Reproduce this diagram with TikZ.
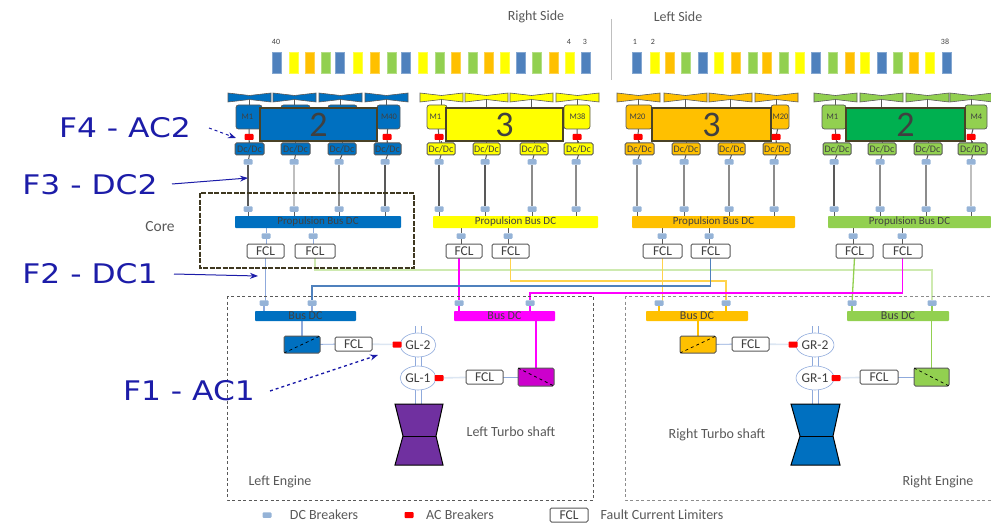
\documentclass[tikz,border=0pt]{standalone}
\usepackage{fontspec}
\setmainfont{Carlito}
\newfontfamily\flab[FakeStretch=1.16]{DejaVu Sans}
\usetikzlibrary{arrows.meta,backgrounds,shapes.geometric}
\definecolor{cblue}{HTML}{0070C0}
\definecolor{cyel}{HTML}{FFFF00}
\definecolor{cora}{HTML}{FFC000}
\definecolor{cgrn}{HTML}{92D050}
\definecolor{cdgrn}{HTML}{00B050}
\definecolor{cmag}{HTML}{FF00FF}
\definecolor{cdmag}{HTML}{CC00CC}
\definecolor{cpur}{HTML}{7030A0}
\definecolor{sblue}{HTML}{4F81BD}
\definecolor{brk}{HTML}{95B3D7}
\definecolor{wireb}{HTML}{8FAADC}
\definecolor{palew}{HTML}{DCE6F2}
\definecolor{dkbox}{HTML}{4A4226}
\definecolor{ink}{HTML}{404040}
\definecolor{annot}{HTML}{1C1CA8}
\definecolor{dk}{HTML}{595959}
\definecolor{md}{HTML}{8C8C8C}
\definecolor{lg}{HTML}{BFBFBF}
\tikzset{
  base/.style={inner sep=0pt,outer sep=0pt,rectangle,text=ink,font=\fontsize{8}{8}\selectfont},
  stripbar/.style={base,fill=#1,draw=#1!70!white,line width=.4pt},
  motorbox/.style={base,fill=#1,draw=dk,line width=.7pt,rounded corners=2.5pt,font=\fontsize{8.5}{8}\selectfont},
  bigbox/.style={base,fill=#1,draw=dkbox,line width=2.4pt,font=\fontsize{36}{36}\selectfont},
  convbox/.style={base,fill=#1,draw=dk,line width=1pt,rounded corners=1.5pt,font=\fontsize{10}{9}\selectfont},
  busbar/.style={base,fill=#1,font=\fontsize{11}{10}\selectfont,rounded corners=.8pt},
  dcbrk/.style={base,fill=brk,rounded corners=1pt,minimum width=9pt,minimum height=5.5pt},
  acbrk/.style={base,fill=red,rounded corners=.8pt,minimum width=9pt,minimum height=6pt},
  fclbox/.style={base,fill=white,draw=dk,line width=1pt,rounded corners=1.5pt,font=\fontsize{13.5}{10}\selectfont},
  genell/.style={base,ellipse,fill=white,draw=wireb,line width=.6pt,minimum width=32pt,minimum height=24pt,font=\fontsize{13.5}{10}\selectfont},
  fanbox/.style={base,minimum width=43pt,minimum height=9pt},
  note/.style={base,font=\fontsize{14}{11}\selectfont,text=dk},
  flabel/.style={base,font=\flab\fontsize{27}{28}\selectfont,text=annot},
  farrow/.style={annot,line width=1pt,-{Stealth[length=8pt,width=6pt]}},
  stem/.style={line width=1pt,color=dk},
  engbox/.style={dk,dashed,line width=.9pt,dash pattern=on 3pt off 2.5pt},
  lowbus/.style={busbar=#1,font=\fontsize{12}{9}\selectfont},
  wirec/.style={#1,line width=1.3pt},
}
\newcommand\rb[7][]{\node[#1,minimum width={(#5-#3)*1pt},minimum height={(#6-#4)*1pt}] (#2) at ({(#3+#5)/2},{(#4+#6)/2}) {#7};}
\newcommand\drawgroup{%
  \rb[motorbox=\gcol]{\pre ml}{\mLa}{105}{\mLb}{129}{\hspace*{-3pt}\labL}
  \rb[motorbox=\gcol]{\pre mr}{\mRa}{105}{\mRb}{129}{\hspace*{1pt}\labR}
  \rb[bigbox=\gbig]{\pre big}{\biga}{108}{\bigb}{141}{\gnum}
  \node[acbrk] (\pre rl) at (\redL,137) {};
  \node[acbrk] (\pre rr) at (\redR,137) {};
  \rb[busbar=\gcol]{\pre bus}{\busa}{216}{\busb}{228}{Propulsion Bus DC}
  \foreach \fx [count=\n] in \fanlist {
    \rb[fanbox]{\pre f\n}{\fx}{93}{\fx+43}{102}{}
    \fill[\gcol,draw=dk,line width=.6pt] (\pre f\n.north west) -- ([yshift=-2.5pt]\pre f\n.north) -- (\pre f\n.north east) -- (\pre f\n.south east) -- ([yshift=2.5pt]\pre f\n.south) -- (\pre f\n.south west) -- cycle;
    \begin{pgfonlayer}{background}
      \draw[stem] (\pre f\n.center) -- (\pre f\n.center |- \pre big.north);
    \end{pgfonlayer}
  }
  \foreach \ca/\cb/\bk/\wc [count=\n] in \convlist {
    \rb[convbox=\gcol]{\pre c\n}{\ca}{143}{\cb}{155}{Dc/Dc}
    \node[dcbrk] (\pre u\n) at (\bk,162) {};
    \node[dcbrk] (\pre d\n) at (\bk,209) {};
    \begin{pgfonlayer}{background}
      \draw[stem] (\pre c\n.north) -- (\pre c\n.north |- \pre big.south);
      \draw[stem] (\pre c\n.south) -- (\pre u\n);
      \draw[line width=1.2pt,color=\wc] (\pre u\n) -- (\pre d\n);
      \draw[stem] (\pre d\n) -- (\pre d\n |- \pre bus.north);
    \end{pgfonlayer}
  }
  \foreach \fa/\fb/\bk [count=\n] in \fcllist {
    \rb[fclbox]{\pre l\n}{\fa}{244}{\fb}{258}{FCL}
    \node[dcbrk] (\pre b\n) at (\bk,236) {};
    \begin{pgfonlayer}{background}
      \draw[line width=1pt,color=\gstem] (\pre bus.south -| \pre b\n) -- (\pre b\n) -- (\pre b\n |- \pre l\n.north);
    \end{pgfonlayer}
  }
  \begin{pgfonlayer}{background}
    \draw[stem] (\pre ml) -- (\pre rl) -- (\pre c1);
    \draw[stem] (\pre mr) -- (\pre rr) -- (\pre c4);
  \end{pgfonlayer}
}
\begin{document}
\begin{tikzpicture}[x=1pt,y=-1pt]
\useasboundingbox (0,0) rectangle (991,524);

% top strip
\foreach \x/\c in {276.7/sblue,294/cyel,309.3/cora,326/cgrn,340/sblue,358/cyel,375/cora,391.7/cgrn,406/sblue,422.7/cyel,439.3/cgrn,456/cora,472.3/cgrn,489/cora,504.3/cyel,521/sblue,536.7/cgrn,553.3/cora,570/cyel,586/sblue,
  636.7/sblue,654.3/cyel,669.3/cora,686/cgrn,702.3/sblue,719/cyel,735.7/cora,752.3/cgrn,766.7/cora,783.3/cgrn,800/cyel,816/sblue,832.7/cgrn,849.3/cora,864.3/cyel,881.7/sblue,897.3/cgrn,914/cora,930/cyel,946.7/sblue}
  {\node[stripbar=\c,minimum width=9pt,minimum height=21pt] at (\x,62.5) {};}
\node[base,font=\fontsize{8}{8}\selectfont] at (276,42) {40};
\node[base,font=\fontsize{8}{8}\selectfont] at (569,42) {4};
\node[base,font=\fontsize{8}{8}\selectfont] at (585,42) {3};
\node[base,font=\fontsize{8}{8}\selectfont] at (635,42) {1};
\node[base,font=\fontsize{8}{8}\selectfont] at (653,42) {2};
\node[base,font=\fontsize{8}{8}\selectfont] at (945,42) {38};
\node[note] (rs) at (536,17) {Right Side};
\node[note] (ls) at (678,17) {Left Side};
\coordinate (diva) at (611,19);
\coordinate (divb) at (611,80);
\draw[lg,line width=.8pt] (diva) -- (divb);

% propulsion groups
\def\pre{a}\def\gcol{cblue}\def\gbig{cblue}\def\gnum{2}\def\gstem{wireb}
\def\mLa{236}\def\mLb{262}\def\mRa{377}\def\mRb{400}\def\labL{M1}\def\labR{M40}
\def\biga{260}\def\bigb{377}\def\redL{249}\def\redR{387}\def\busa{235}\def\busb{401}
\def\fanlist{228,273,319,365}
\def\convlist{235/264/248/dk,281/310/294/lg,328/356/339/md,374/401/385/dk}
\def\fcllist{247/284/266,295/335/313}
\foreach \xa/\nn in {281/i,328/j} {\rb[motorbox=cblue]{amid\nn}{\xa}{105}{\xa+29}{120}{}}
\drawgroup

\def\pre{b}\def\gcol{cyel}\def\gbig{cyel}\def\gnum{3}\def\gstem{dk}
\def\mLa{427}\def\mLb{447}\def\mRa{564}\def\mRb{590}\def\labL{M1}\def\labR{M38}
\def\biga{446}\def\bigb{563}\def\redL{439}\def\redR{577}\def\busa{433}\def\busb{598}
\def\fanlist{420,465,510,556}
\def\convlist{427/455/439/dk,473/500/485/dk,520/548/532/md,564/593/576/md}
\def\fcllist{446/482/461,492/529/508}
\drawgroup

\def\pre{c}\def\gcol{cora}\def\gbig{cora}\def\gnum{3}\def\gstem{dk}
\def\mLa{626}\def\mLb{652}\def\mRa{771}\def\mRb{789}\def\labL{M20}\def\labR{M20}
\def\biga{652}\def\bigb{771}\def\redL{638}\def\redR{776}\def\busa{632}\def\busb{795}
\def\fanlist{617,664,709,755}
\def\convlist{625/654/637/md,672/700/684/md,718/745/729/md,763/790/774/md}
\def\fcllist{643/682/662,691/730/709}
\drawgroup

\def\pre{d}\def\gcol{cgrn}\def\gbig{cdgrn}\def\gnum{2}\def\gstem{dk}
\def\mLa{822}\def\mLb{846}\def\mRa{965}\def\mRb{987}\def\labL{M1}\def\labR{M4}
\def\biga{846}\def\bigb{965}\def\redL{836}\def\redR{971}\def\busa{828}\def\busb{991}
\def\fanlist{814,860,906,950}
\def\convlist{823/851/834/dk,868/896/880/md,914/942/926/md,958/987/971/lg}
\def\fcllist{836/873/853,883/922/902}
\drawgroup

% core
\node[base] (corelab) at (160,227) {\fontsize{15.5}{11}\selectfont\color{dk}Core};
\coordinate (corea) at (200,193);
\coordinate (coreb) at (414,268);
\draw[dkbox!85!black,line width=2.4pt,dash pattern=on 5pt off 1.5pt] (corea) rectangle (coreb);

% engine boxes
\coordinate (lea) at (227,296); \coordinate (leb) at (593,500);
\coordinate (rea) at (625,296); \coordinate (reb) at (991,500);
\draw[engbox] (lea) rectangle (leb);
\draw[engbox,md] (rea) rectangle (reb);

% lower buses and breakers
\rb[lowbus=cblue]{lb1}{255}{311}{356}{321}{Bus DC}
\rb[lowbus=cmag]{lb2}{454}{311}{555}{321}{Bus DC}
\rb[lowbus=cora]{rb1}{646}{311}{748}{321}{Bus DC}
\rb[lowbus=cgrn]{rb2}{847}{311}{949}{321}{Bus DC}
\foreach \nn/\x in {k1/264,k2/312,k3/459,k4/530,k5/659,k6/726,k7/852,k8/932}
  {\node[dcbrk] (\nn) at (\x,303) {};}

% generators
\node[genell] (gl2) at (418,345) {GL-2};
\node[genell] (gl1) at (418,378) {GL-1};
\node[genell] (gr2) at (815,345) {GR-2};
\node[genell] (gr1) at (815,378) {GR-1};
\coordinate (gl2t) at (418,326);
\coordinate (gr2t) at (815,326);

% turbines
\coordinate (tl) at (419,404);
\coordinate (tr) at (815.5,404);
\fill[cpur,draw=black,line width=1pt] (395,404) -- (443,404) -- (436,436) -- (443,465) -- (395,465) -- (403,436) -- cycle;
\draw[black,line width=.8pt] (403,436) -- (436,436);
\fill[cblue,draw=black,line width=1pt] (791,404) -- (840,404) -- (833,436) -- (840,465) -- (791,465) -- (800,436) -- cycle;
\draw[black,line width=.8pt] (800,436) -- (833,436);

% converters and FCL left engine
\rb[convbox=cblue]{lc1}{284}{336}{320}{353}{}
\rb[fclbox]{lf1}{335}{337}{372}{351}{FCL}
\node[acbrk] (la1) at (397,344.5) {};
\node[acbrk] (la2) at (439,378) {};
\rb[fclbox]{lf2}{466}{370}{503}{384}{FCL}
\rb[convbox=cdmag]{lc2}{518}{368}{554}{386}{}
% right engine
\rb[convbox=cora]{rc1}{680}{336}{716}{353}{}
\rb[fclbox]{rf1}{732}{337}{769}{351}{FCL}
\node[acbrk] (ra1) at (793,344.5) {};
\node[acbrk] (ra2) at (836,378) {};
\rb[fclbox]{rf2}{860}{370}{898}{384}{FCL}
\rb[convbox=cgrn]{rc2}{914}{368}{949}{386}{}
% converter diagonals
\draw[black,line width=.7pt,dashed] (lc1.south west) -- (lc1.north east);
\draw[black,line width=.7pt,dashed] (rc1.south west) -- (rc1.north east);
\draw[black,line width=.7pt,dashed] (lc2.north west) -- (lc2.south east);
\draw[black,line width=.7pt,dashed] (rc2.north west) -- (rc2.south east);

\begin{pgfonlayer}{background}
  % feeders from the upper FCLs to the lower breakers
  \draw[wirec=wireb] (al1.south) -- (al1.south |- k1.north) -- (k1);
  \draw[wirec=cgrn!45!white] (al2.south) |- (k8 |- 0,270) -- (k8);
  \draw[wirec=cmag] (bl1.south -| k3) -- (k3);
  \draw[wirec=cora!70!white] (bl2.south) |- (k6 |- 0,281) -- (k6);
  \draw[wirec=cora!70!white] (cl1.south) -- (cl1.south |- k5.north) -- (k5);
  \draw[wirec=sblue] (cl2.south) |- (k2 |- 0,286) -- (k2);
  \draw[wirec=cgrn] (dl1.south) -- (k7);
  \draw[wirec=cmag] (dl2.south) |- (k4 |- 0,293) -- (k4);
  % breakers to buses
  \draw[wirec=wireb] (k1) -- (k1 |- lb1.north) (k2) -- (k2 |- lb1.north);
  \draw[wirec=cmag] (k3) -- (k3 |- lb2.north) (k4) -- (k4 |- lb2.north);
  \draw[wirec=cora] (k5) -- (k5 |- rb1.north) (k6) -- (k6 |- rb1.north);
  \draw[wirec=cgrn] (k7) -- (k7 |- rb2.north) (k8) -- (k8 |- rb2.north);
  % buses to converters
  \draw[wirec=wireb] (lb1.south -| lc1.north) -- (lc1.north);
  \draw[wirec=cmag] (lb2.south -| lc2.north) -- (lc2.north);
  \draw[wirec=cora] (rb1.south -| rc1.north) -- (rc1.north);
  \draw[wirec=cgrn] (rb2.south -| rc2.north) -- (rc2.north);
  % converter - FCL - breaker - generator
  \draw[wireb,line width=.9pt] (lc1) -- (lf1);
  \draw[palew,line width=1.6pt] (lf1) -- (la1) -- (gl2);
  \draw[palew,line width=1.6pt] (gl1) -- (la2) -- (lf2);
  \draw[wireb,line width=.9pt] (lf2) -- (lc2);
  \draw[wireb,line width=.9pt] (rc1) -- (rf1);
  \draw[palew,line width=1.6pt] (rf1) -- (ra1) -- (gr2);
  \draw[palew,line width=1.6pt] (gr1) -- (ra2) -- (rf2);
  \draw[wireb,line width=.9pt] (rf2) -- (rc2);
  % double shafts
  \foreach \s in {-3,3} {
    \draw[wireb,line width=.9pt] ([xshift=\s pt]gl2t) -- ([xshift=\s pt]gl2.center);
    \draw[wireb,line width=.9pt] ([xshift=\s pt]gl2.center) -- ([xshift=\s pt]gl1.center);
    \draw[wireb,line width=.9pt] ([xshift=\s pt]gl1.center) -- ([xshift=\s pt]gl1.center |- tl);
    \draw[wireb,line width=.9pt] ([xshift=\s pt]gr2t) -- ([xshift=\s pt]gr2.center);
    \draw[wireb,line width=.9pt] ([xshift=\s pt]gr2.center) -- ([xshift=\s pt]gr1.center);
    \draw[wireb,line width=.9pt] ([xshift=\s pt]gr1.center) -- ([xshift=\s pt]gr1.center |- tr);
  }
\end{pgfonlayer}

% captions
\node[note] (ltc) at (511,432) {Left Turbo shaft};
\node[note] (rtc) at (717,435) {Right Turbo shaft};
\node[note] (lec) at (280,482) {Left Engine};
\node[note] (rec) at (938,482) {Right Engine};

% legend
\node[dcbrk] (lg1) at (267,515) {};
\node[note] (lg1t) at (324,515) {DC Breakers};
\node[acbrk] (lg2) at (409,515) {};
\node[note] (lg2t) at (460,515) {AC Breakers};
\rb[fclbox]{lg3}{550}{508}{588}{522}{FCL}
\node[note] (lg3t) at (662,515) {Fault Current Limiters};

% fault labels
\node[flabel] (f4) at (125,128) {F4 - AC2};
\node[flabel] (f3) at (90,185) {F3 - DC2};
\node[flabel] (f2) at (90,274) {F2 - DC1};
\node[flabel] (f1) at (189,391) {F1 - AC1};
\coordinate (f4s) at (209,128); \coordinate (f4e) at (236,138);
\coordinate (f3s) at (172,184); \coordinate (f3e) at (248,178);
\coordinate (f2s) at (174,274); \coordinate (f2e) at (258,276);
\coordinate (f1s) at (270,391); \coordinate (f1e) at (378,355);
\draw[farrow,dashed] (f4s) -- (f4e);
\draw[farrow] (f3s) -- (f3e);
\draw[farrow] (f2s) -- (f2e);
\draw[farrow,dashed,line width=1.3pt] (f1s) -- (f1e);
\end{tikzpicture}
\end{document}
